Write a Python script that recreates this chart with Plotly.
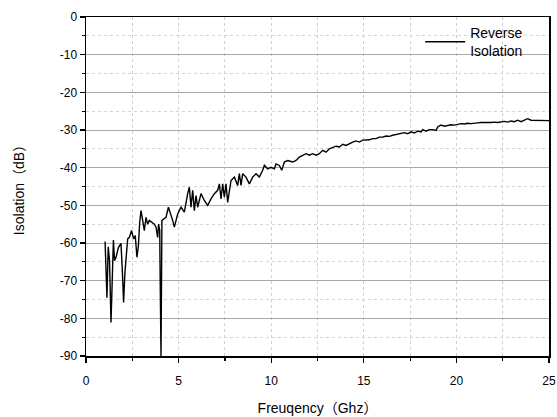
import plotly.graph_objects as go

# ---- data ----
freq_ghz = [
    1.03, 1.13, 1.20, 1.27, 1.35, 1.41, 1.48, 1.54, 1.62, 1.75, 1.89, 1.97, 2.03, 2.10,
    2.20, 2.25, 2.34, 2.46, 2.57, 2.66, 2.75, 2.83, 2.90, 2.97, 3.06, 3.15, 3.24, 3.33,
    3.42, 3.54, 3.69, 3.78, 3.87, 3.92, 3.98, 4.01, 4.05, 4.10, 4.19, 4.32, 4.45, 4.55,
    4.68, 4.77, 4.95, 5.13, 5.31, 5.49, 5.58, 5.67, 5.76, 5.85, 5.94, 6.03, 6.21, 6.39,
    6.57, 6.75, 6.93, 7.11, 7.20, 7.29, 7.38, 7.47, 7.56, 7.65, 7.74, 7.83, 8.01, 8.19,
    8.28, 8.37, 8.46, 8.64, 8.82, 9.00, 9.18, 9.36, 9.54, 9.63, 9.81, 9.99, 10.17, 10.26,
    10.44, 10.57, 10.71, 10.89, 11.16, 11.34, 11.52, 11.70, 11.88, 12.06, 12.24, 12.42,
    12.60, 12.78, 12.96, 13.14, 13.32, 13.50, 13.68, 13.86, 14.04, 14.22, 14.40, 14.58,
    14.76, 14.94, 15.12, 15.30, 15.48, 15.66, 15.84, 16.02, 16.20, 16.38, 16.56, 16.74,
    16.92, 17.19, 17.37, 17.55, 17.73, 17.91, 18.09, 18.18, 18.36, 18.54, 18.72, 18.90,
    18.99, 19.17, 19.35, 19.53, 19.71, 19.89, 20.07, 20.25, 20.43, 20.61, 20.79, 20.97,
    21.15, 21.33, 21.51, 21.69, 21.87, 22.05, 22.23, 22.41, 22.59, 22.77, 22.95, 23.13,
    23.31, 23.49, 23.67, 23.85, 24.03, 24.21, 24.57, 25.00,
]
isolation_db = [
    -59.6, -74.5, -61.0, -64.7, -81.1, -71.0, -59.2, -64.7, -63.8, -61.2, -60.1, -68.2, -75.8, -68.0,
    -61.2, -58.9, -58.5, -56.7, -58.9, -58.0, -63.8, -60.7, -54.5, -51.4, -54.0, -56.7, -53.2, -55.0,
    -54.0, -54.5, -55.0, -55.8, -58.5, -55.0, -56.7, -71.8, -90.0, -54.0, -53.6, -53.2, -50.5, -51.8,
    -54.0, -55.8, -52.3, -50.5, -51.8, -46.9, -45.2, -50.5, -46.0, -51.4, -47.4, -50.5, -46.9, -48.7,
    -50.0, -48.3, -46.9, -46.0, -44.3, -48.3, -44.3, -47.8, -44.3, -49.2, -46.0, -43.4, -42.5, -44.7,
    -41.6, -44.7, -41.6, -42.5, -44.3, -42.5, -41.6, -42.5, -40.7, -39.4, -40.3, -39.9, -40.3, -39.0,
    -39.4, -40.7, -38.5, -38.1, -38.5, -38.1, -37.2, -36.7, -36.3, -36.7, -36.3, -36.7,
    -36.3, -35.4, -35.9, -35.0, -34.7, -34.3, -34.5, -33.8, -34.1, -33.6, -33.2, -32.9,
    -33.2, -32.7, -32.7, -32.6, -32.3, -32.3, -31.9, -31.9, -31.6, -31.7, -31.4, -31.2,
    -31.1, -30.7, -31.0, -30.5, -30.8, -30.3, -30.5, -29.9, -30.3, -29.9, -29.9, -30.1,
    -29.2, -28.7, -29.0, -28.7, -28.6, -28.7, -28.5, -28.3, -28.4, -28.2, -28.3, -28.1,
    -28.1, -28.0, -28.1, -28.0, -28.0, -27.9, -28.0, -27.9, -27.7, -27.9, -27.6, -27.8,
    -27.4, -27.8, -27.4, -27.0, -27.4, -27.4, -27.5, -27.5,
]

x_tick_vals = [0, 5, 10, 15, 20, 25]
x_tick_text = ["0", "5", "10", "15", "20", "25"]
y_tick_vals = [0, -10, -20, -30, -40, -50, -60, -70, -80, -90]
y_tick_text = ["0", "-10", "-20", "-30", "-40", "-50", "-60", "-70", "-80", "-90"]
x_minor_vals = [2.5, 7.5, 12.5, 17.5, 22.5]
y_minor_vals = [-5, -15, -25, -35, -45, -55, -65, -75, -85]

series_name = "Reverse<br>Isolation"
x_title = "Freuqency（Ghz）"
y_title = "Isolation（dB）"

FONT = "Arial, 'Liberation Sans', 'Noto Sans CJK SC', sans-serif"

fig = go.Figure()
fig.add_trace(go.Scatter(
    x=freq_ghz, y=isolation_db, mode="lines", name=series_name,
    line=dict(color="black", width=1.4),
    showlegend=True,
))

# full-window figure; the page body margin is removed by the post script
fig.update_layout(
    width=557, height=417,
    margin=dict(l=86, r=8, t=17, b=61, autoexpand=False),
    paper_bgcolor="white", plot_bgcolor="white",
    font=dict(family=FONT, size=12, color="black"),
    showlegend=True,
    hovermode=False,
    legend=dict(
        x=0.955, xanchor="right", y=1.0, yanchor="top",
        bgcolor="rgba(0,0,0,0)", borderwidth=0,
        font=dict(size=14, family=FONT, color="black"),
        itemwidth=40,
    ),
)

fig.update_xaxes(
    range=[0, 25], automargin=False,
    tickmode="array", tickvals=x_tick_vals, ticktext=x_tick_text,
    ticks="outside", ticklen=5, tickwidth=1.2, tickcolor="black",
    ticklabelstandoff=8, ticklabeloverflow="allow",
    showline=True, linecolor="black", linewidth=1.5, mirror=True,
    showgrid=True, gridcolor="#cfcfcf", gridwidth=1, griddash="dot",
    zeroline=False,
    minor=dict(tickmode="array", tickvals=x_minor_vals, ticks="outside", ticklen=3,
               tickcolor="black", showgrid=True, gridcolor="#cfcfcf", griddash="dot"),
    title=dict(text=x_title, font=dict(size=14, family=FONT), standoff=16),
    tickfont=dict(size=12, family=FONT),
)
fig.update_yaxes(
    range=[-90, 0], automargin=False,
    tickmode="array", tickvals=y_tick_vals, ticktext=y_tick_text,
    ticks="outside", ticklen=5, tickwidth=1.2, tickcolor="black",
    showline=True, linecolor="black", linewidth=1.5, mirror=True,
    showgrid=True, gridcolor="#a8a8a8", gridwidth=1,
    zeroline=False,
    minor=dict(tickmode="array", tickvals=y_minor_vals, ticks="outside", ticklen=3,
               tickcolor="black", showgrid=True, gridcolor="#d4d4d4", griddash="dot"),
    title=dict(text=y_title, font=dict(size=14, family=FONT), standoff=32),
    tickfont=dict(size=12, family=FONT),
)

fig.write_html(
    "out.html",
    config={"displayModeBar": False, "staticPlot": True},
    post_script=(
        "document.body.style.margin='0';"
        "document.body.style.overflow='hidden';"
        "document.documentElement.style.overflow='hidden';"
    ),
)
